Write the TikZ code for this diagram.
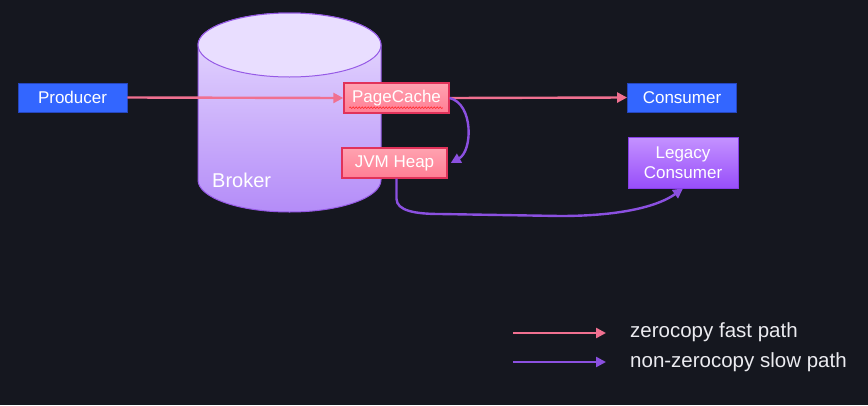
\documentclass[tikz,border=0pt]{standalone}
\usepackage{fontspec}
\setmainfont{Liberation Sans}
\usetikzlibrary{arrows.meta,calc,decorations.pathmorphing}
\definecolor{bgc}{RGB}{21,23,31}
\definecolor{blueb}{RGB}{51,102,255}
\definecolor{bluebd}{RGB}{38,70,190}
\definecolor{pinkt}{RGB}{255,162,176}
\definecolor{pinkb}{RGB}{255,126,148}
\definecolor{pinkbd}{RGB}{225,50,90}
\definecolor{cyltop}{RGB}{233,222,255}
\definecolor{cylbot}{RGB}{180,140,248}
\definecolor{cylbd}{RGB}{150,90,230}
\definecolor{legt}{RGB}{196,146,255}
\definecolor{legb}{RGB}{152,78,250}
\definecolor{legbd}{RGB}{135,62,232}
\definecolor{fastc}{RGB}{240,112,144}
\definecolor{slowc}{RGB}{139,80,224}
\definecolor{txt}{RGB}{235,235,240}
\tikzset{
  bluebox/.style={draw=bluebd, line width=0.8pt, fill=blueb, text=white, minimum width=109pt, minimum height=29pt, inner sep=0pt, font=\fontsize{17}{19}\selectfont},
  pinkbox/.style={draw=pinkbd, line width=1.4pt, top color=pinkt, bottom color=pinkb, text=white, minimum width=105pt, minimum height=30pt, inner sep=0pt, font=\fontsize{17}{19}\selectfont},
  legbox/.style={draw=legbd, line width=0.8pt, top color=legt, bottom color=legb, text=white, minimum width=110pt, minimum height=51pt, inner sep=0pt, align=center, font=\fontsize{17}{19.5}\selectfont},
  fast/.style={draw=fastc, line width=2.4pt, -{Triangle[length=10pt,width=10pt]}},
  slow/.style={draw=slowc, line width=2.4pt, -{Triangle[length=10pt,width=10pt]}},
  legtext/.style={text=txt, anchor=west, inner sep=0pt, font=\fontsize{20.5}{22}\selectfont},
}
\begin{document}
\begin{tikzpicture}[x=1pt,y=-1pt]
\useasboundingbox (0,0) rectangle (868,405);
\fill[bgc] (0,0) rectangle (868,405);
% cylinder body
\shade[top color=cyltop, bottom color=cylbot, draw=cylbd, line width=1pt]
  (198,45) -- (198,180) arc[start angle=180, end angle=0, x radius=91.5, y radius=32] -- (381,45) arc[start angle=0, end angle=-180, x radius=91.5, y radius=32] -- cycle;
\draw[cylbd, line width=1pt, fill=cyltop] (289.5,45) ellipse[x radius=91.5, y radius=32];
\node[text=white, anchor=west, inner sep=0pt, font=\fontsize{20}{22}\selectfont] (broker) at (212,180) {Broker};
% boxes
\node[bluebox] (producer) at (72.5,97.5) {Producer};
\node[pinkbox] (pagecache) at (396.5,98) {PageCache};
\node[pinkbox] (jvm) at (394.5,163) {JVM Heap};
\node[bluebox] (consumer) at (682,97.5) {Consumer};
\node[legbox] (legacy) at (683,162.5) {Legacy\\Consumer};
\draw[red!85!white, line width=0.6pt, decorate, decoration={snake, segment length=3pt, amplitude=0.8pt}]
  ($(pagecache.south west)+(6,-6)$) -- ($(pagecache.south east)+(-7,-6)$);
% connectors
\draw[fast] (producer.east) -- (pagecache.west);
\draw[fast] (pagecache.east) -- (consumer.west);
\draw[slow] (pagecache.east) .. controls +(24,6) and +(22,-12) .. ($(jvm.east)+(3,0)$);
\draw[slow] ($(jvm.south)+(2,0)$) -- +(0,20) .. controls +(0,12) and +(-25,0) .. (440,214) -- (560,216) .. controls (625,216) and (660,205) .. (legacy.south);
% legend
\coordinate (f1) at (513,333);
\coordinate (f2) at (606,333);
\coordinate (s1) at (513,362);
\coordinate (s2) at (606,362);
\draw[fast] (f1) -- (f2);
\draw[slow] (s1) -- (s2);
\node[legtext] (lfast) at (630,332) {zerocopy fast path};
\node[legtext] (lslow) at (630,362) {non-zerocopy slow path};
\end{tikzpicture}
\end{document}
